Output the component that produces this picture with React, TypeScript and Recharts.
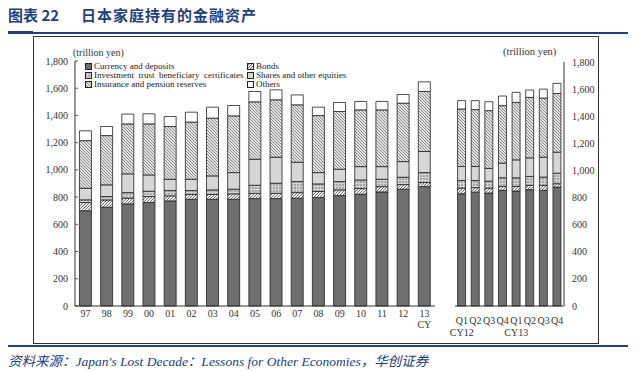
import { BarChart, Bar, XAxis, YAxis, Legend } from "recharts";

const YEARS = ["97", "98", "99", "00", "01", "02", "03", "04", "05", "06", "07", "08", "09", "10", "11", "12", "13"];
const CURRENCY = [700, 726, 750, 760, 772, 784, 784, 784, 789, 789, 792, 797, 811, 821, 838, 858, 877];
const BONDS = [60, 53, 42, 44, 37, 35, 35, 40, 39, 39, 41, 44, 42, 42, 39, 34, 30];
const INVEST = [20, 25, 41, 39, 39, 29, 34, 34, 59, 74, 81, 56, 61, 63, 54, 54, 73];
const SHARES = [85, 86, 138, 120, 83, 83, 103, 122, 191, 191, 142, 83, 91, 98, 93, 115, 155];
const INSURANCE = [350, 362, 367, 375, 388, 420, 424, 417, 422, 422, 422, 419, 424, 417, 417, 429, 441];
const OTHERS = [72, 67, 72, 74, 73, 73, 81, 76, 76, 73, 73, 62, 66, 62, 62, 64, 71];

const QUARTERS = ["Q1", "Q2", "Q3", "Q4", "Q1", "Q2", "Q3", "Q4"];
const QUARTER_YEARS = ["CY12", "", "", "", "CY13", "", "", ""];
const Q_CURRENCY = [828, 840, 833, 853, 848, 858, 853, 877];
const Q_BONDS = [42, 33, 37, 29, 34, 32, 37, 25];
const Q_INVEST = [56, 53, 51, 64, 64, 66, 61, 78];
const Q_SHARES = [103, 103, 94, 108, 132, 137, 147, 155];
const Q_INSURANCE = [424, 420, 426, 424, 424, 446, 436, 433];
const Q_OTHERS = [62, 66, 66, 71, 74, 54, 66, 74];

const Y_TICKS = [0, 200, 400, 600, 800, 1000, 1200, 1400, 1600, 1800];

const SERIES = [
  { key: "currency", name: "Currency and deposits", fill: "#6f6f6f" },
  { key: "bonds", name: "Bonds", fill: "url(#patBonds)" },
  { key: "invest", name: "Investment  trust  beneficiary  certificates", fill: "url(#patInvest)" },
  { key: "shares", name: "Shares and other equities", fill: "#d6d6d6" },
  { key: "insurance", name: "Insurance and pension reserves", fill: "url(#patIns)" },
  { key: "others", name: "Others", fill: "#ffffff" },
];

const yearData = YEARS.map((year, i) => ({
  year,
  currency: CURRENCY[i],
  bonds: BONDS[i],
  invest: INVEST[i],
  shares: SHARES[i],
  insurance: INSURANCE[i],
  others: OTHERS[i],
}));

const quarterData = QUARTERS.map((q, i) => ({
  id: `${i}`,
  q,
  cy: QUARTER_YEARS[i],
  currency: Q_CURRENCY[i],
  bonds: Q_BONDS[i],
  invest: Q_INVEST[i],
  shares: Q_SHARES[i],
  insurance: Q_INSURANCE[i],
  others: Q_OTHERS[i],
}));

const SERIF = "'Liberation Serif', 'Times New Roman', serif";
const NAVY = "#23407a";
const AXIS = "#333";

const fmt = (v: number) => v.toLocaleString("en-US");

function LeftYTick(props: any) {
  const { x, y, payload } = props;
  return (
    <g>
      <line x1={x + 7} x2={x + 10} y1={y} y2={y} stroke={AXIS} strokeWidth={0.8} />
      <text x={x} y={y} dy="0.35em" textAnchor="end" fontSize={10} fill="#333" fontFamily={SERIF}>
        {fmt(payload.value)}
      </text>
    </g>
  );
}

function RightYTick(props: any) {
  const { x, y, payload } = props;
  return (
    <text x={x} y={y} dy="0.35em" textAnchor="start" fontSize={10} fill="#333" fontFamily={SERIF}>
      {fmt(payload.value)}
    </text>
  );
}

function InnerTick(props: any) {
  const { x, y } = props;
  return <line x1={x} x2={x + 3} y1={y} y2={y} stroke={AXIS} strokeWidth={0.8} />;
}

function YearTick(props: any) {
  const { x, y, payload } = props;
  const last = payload.value === YEARS[YEARS.length - 1];
  return (
    <g>
      <text x={x} y={y} dy="0.71em" textAnchor="middle" fontSize={10} fill="#333" fontFamily={SERIF}>
        {payload.value}
      </text>
      {last && (
        <text x={x} y={y + 11} dy="0.71em" textAnchor="middle" fontSize={10} fill="#333" fontFamily={SERIF}>
          CY
        </text>
      )}
    </g>
  );
}

function QuarterTick(props: any) {
  const { x, y, payload } = props;
  const row = quarterData[Number(payload.value)];
  return (
    <g>
      <text x={x} y={y} dy="0.71em" textAnchor="middle" fontSize={10} fill="#333" fontFamily={SERIF}>
        {row.q}
      </text>
      {row.cy && (
        <text x={x} y={y + 12} dy="0.71em" textAnchor="middle" fontSize={10} fill="#333" fontFamily={SERIF}>
          {row.cy}
        </text>
      )}
    </g>
  );
}

function Swatch({ fill }: { fill: string }) {
  return (
    <svg width={7} height={7} style={{ marginRight: 2, flexShrink: 0 }}>
      <rect x={0.5} y={0.5} width={6} height={6} fill={fill} stroke="#222" strokeWidth={1} />
    </svg>
  );
}

function LegendBox() {
  const cols = [
    [SERIES[0], SERIES[2], SERIES[4]],
    [SERIES[1], SERIES[3], SERIES[5]],
  ];
  return (
    <div style={{ display: "flex", fontFamily: SERIF, fontSize: 9, color: "#222", lineHeight: "9px" }}>
      {cols.map((col, ci) => (
        <div key={ci} style={{ width: ci === 0 ? 162 : 120 }}>
          {col.map((s) => (
            <div key={s.key} style={{ display: "flex", alignItems: "center", height: 9, whiteSpace: "pre" }}>
              <Swatch fill={s.fill} />
              <span>{s.name}</span>
            </div>
          ))}
        </div>
      ))}
    </div>
  );
}

function Patterns() {
  return (
    <svg width={0} height={0} style={{ position: "absolute" }}>
      <defs>
        <pattern id="patBonds" patternUnits="userSpaceOnUse" width={3} height={3}>
          <rect width={3} height={3} fill="#f4f4f4" />
          <path d="M0,3 L3,0 M-1,1 L1,-1 M2,4 L4,2" stroke="#444" strokeWidth={0.8} />
        </pattern>
        <pattern id="patInvest" patternUnits="userSpaceOnUse" width={3} height={3}>
          <rect width={3} height={3} fill="#d2d2d2" />
          <path d="M1,0 L1,2" stroke="#707070" strokeWidth={0.9} />
        </pattern>
        <pattern id="patIns" patternUnits="userSpaceOnUse" width={3} height={3}>
          <rect width={3} height={3} fill="#e6e6e6" />
          <path d="M0,0 L3,3 M-1,2 L1,4 M2,-1 L4,1" stroke="#7a7a7a" strokeWidth={0.9} />
        </pattern>
      </defs>
    </svg>
  );
}

function stackBars() {
  return SERIES.map((s) => (
    <Bar
      key={s.key}
      dataKey={s.key}
      name={s.name}
      stackId="a"
      fill={s.fill}
      stroke="#222"
      strokeWidth={0.8}
      isAnimationActive={false}
    />
  ));
}

export default function App() {
  return (
    <div style={{ position: "absolute", left: 0, top: 0, width: 640, height: 371, background: "#fff", overflow: "hidden" }}>
      <Patterns />
      {/* title */}
      <div
        style={{
          position: "absolute",
          left: 8,
          top: 5,
          fontFamily: "'Noto Sans CJK SC', sans-serif",
          fontWeight: 700,
          fontSize: 15,
          color: NAVY,
          whiteSpace: "pre",
          lineHeight: "20px",
        }}
      >
        {"图表 22"}
        <span style={{ marginLeft: 22, letterSpacing: 1 }}>日本家庭持有的金融资产</span>
      </div>
      <div style={{ position: "absolute", left: 8, top: 32, width: 620, height: 2, background: NAVY }} />
      <div style={{ position: "absolute", left: 8, top: 31, width: 25, height: 3, background: NAVY }} />

      {/* outer frame */}
      <div style={{ position: "absolute", left: 33, top: 36, width: 564, height: 306, border: "1px solid #333" }} />

      <div style={{ position: "absolute", left: 73, top: 47, fontFamily: SERIF, fontSize: 10, color: "#333" }}>
        (trillion yen)
      </div>
      <div style={{ position: "absolute", left: 503, top: 46, fontFamily: SERIF, fontSize: 10.5, color: "#333" }}>
        (trillion yen)
      </div>

      {/* yearly panel */}
      <div style={{ position: "absolute", left: 30, top: 40 }}>
        <BarChart width={420} height={300} data={yearData} margin={{ top: 21, right: 15, left: 5, bottom: 0 }} barCategoryGap="21%">
          <XAxis
            dataKey="year"
            height={34}
            interval={0}
            tickLine={false}
            tickSize={0}
            tickMargin={4}
            axisLine={{ stroke: AXIS }}
            tick={<YearTick />}
          />
          <XAxis xAxisId="top" dataKey="year" orientation="top" height={0} tick={false} tickLine={false} axisLine={{ stroke: AXIS }} />
          <YAxis
            domain={[0, 1800]}
            ticks={Y_TICKS}
            width={40}
            tickLine={false}
            tickSize={0}
            tickMargin={7}
            axisLine={{ stroke: AXIS }}
            tick={<LeftYTick />}
          />
          <YAxis yAxisId="frame" orientation="right" width={0} domain={[0, 1800]} tick={false} tickLine={false} axisLine={{ stroke: AXIS }} />
          <Legend
            verticalAlign="middle"
            align="center"
            content={() => <LegendBox />}
            wrapperStyle={{ top: 22, left: 55, width: 300 }}
          />
          {stackBars()}
        </BarChart>
      </div>

      {/* quarterly panel */}
      <div style={{ position: "absolute", left: 440, top: 40 }}>
        <BarChart width={165} height={300} data={quarterData} margin={{ top: 22, right: 5, left: 15, bottom: 0 }} barCategoryGap="19%">
          <XAxis
            dataKey="id"
            height={34}
            interval={0}
            tickLine={false}
            tickSize={0}
            tickMargin={11}
            axisLine={{ stroke: AXIS }}
            tick={<QuarterTick />}
          />
          <XAxis xAxisId="top" dataKey="id" orientation="top" height={0} tick={false} tickLine={false} axisLine={{ stroke: AXIS }} />
          <YAxis
            orientation="right"
            domain={[0, 1800]}
            ticks={Y_TICKS}
            width={36}
            tickLine={false}
            tickSize={0}
            tickMargin={8}
            axisLine={{ stroke: AXIS }}
            tick={<RightYTick />}
          />
          <YAxis
            yAxisId="frame"
            orientation="left"
            width={0}
            domain={[0, 1800]}
            ticks={Y_TICKS}
            tickLine={false}
            tickSize={0}
            tickMargin={0}
            axisLine={{ stroke: AXIS }}
            tick={<InnerTick />}
          />
          {stackBars()}
        </BarChart>
      </div>

      <div style={{ position: "absolute", left: 8, top: 345, width: 620, height: 2, background: NAVY }} />
      <div
        style={{
          position: "absolute",
          left: 8,
          top: 350,
          fontFamily: "'Liberation Serif', 'Noto Sans CJK SC', serif",
          fontStyle: "italic",
          fontSize: 13.5,
          color: NAVY,
          whiteSpace: "pre",
        }}
      >
        资料来源：Japan's Lost Decade：Lessons for Other Economies，华创证券
      </div>
    </div>
  );
}
